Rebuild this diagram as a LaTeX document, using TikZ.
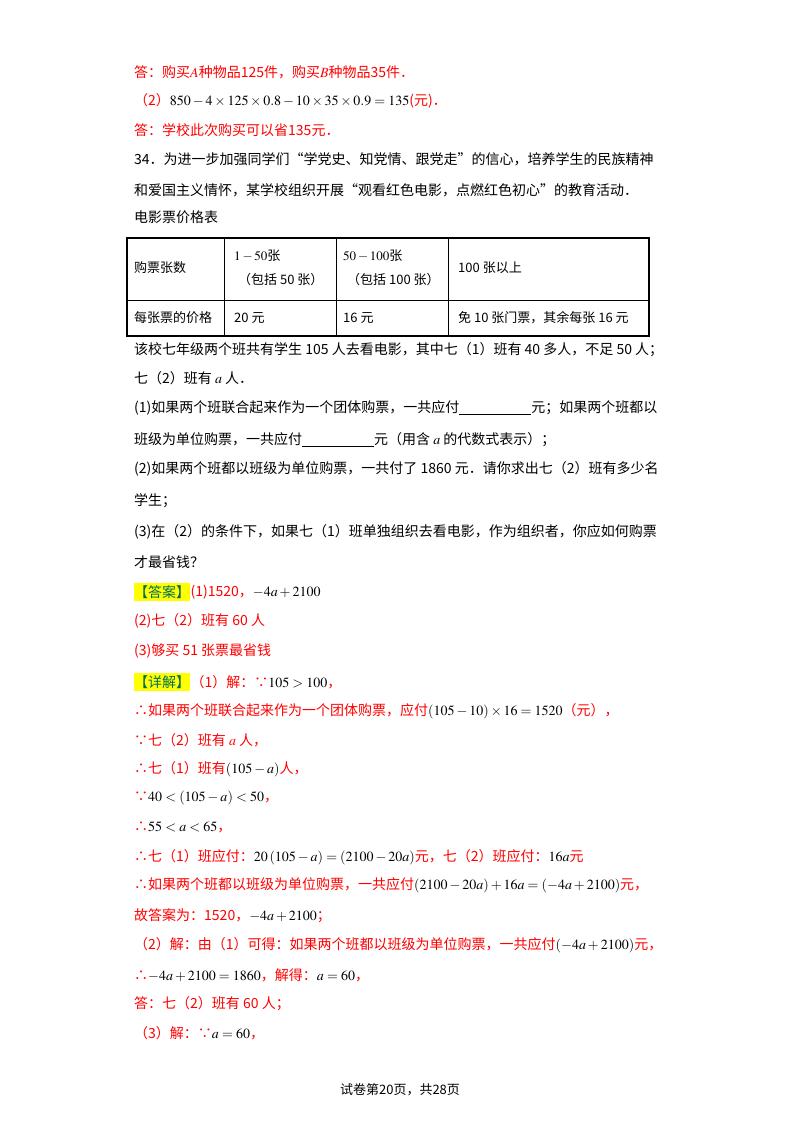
\documentclass[tikz,border=0pt]{standalone}
\usepackage{mathptmx}
\usepackage{fontspec}
\setmainfont{Noto Sans CJK SC}
\newcommand{\blk}{\raisebox{-2pt}{\rule{72pt}{0.5pt}}}
\definecolor{hl}{RGB}{255,255,0}
\definecolor{hd}{RGB}{0,110,90}
\begin{document}
\begin{tikzpicture}[x=1pt,y=-1pt,
  t/.style={anchor=west,inner sep=0pt,font=\fontsize{14}{16}\selectfont},
  r/.style={t,text=red},
  tag/.style={t,fill=hl,text=hd,inner ysep=2pt},
  cell/.style={anchor=west,inner sep=0pt,font=\fontsize{13}{20}\selectfont,align=left}]
\useasboundingbox (0,0) rectangle (800,1132);
\fill[white] (0,0) rectangle (800,1132);
\node[r] (l1) at (134,72) {答：购买$A$种物品125件，购买$B$种物品35件．};
\node[t] (l2) at (134,101) {{\color{red}（2）}$850-4\times125\times0.8-10\times35\times0.9=135${\color{red}(元)．}};
\node[r] (l3) at (134,130) {答：学校此次购买可以省135元．};
\node[t] (l4) at (134,159) {34．为进一步加强同学们“学党史、知党情、跟党走”的信心，培养学生的民族精神};
\node[t] (l5) at (134,190) {和爱国主义情怀，某学校组织开展“观看红色电影，点燃红色初心”的教育活动．};
\node[t] (l6) at (134,217) {电影票价格表};
% table
\draw[line width=1.3pt] (127,238) rectangle (649,336);
\draw[line width=0.8pt] (127,300) -- (649,300) (224,238) -- (224,336) (336,238) -- (336,336) (448,238) -- (448,336);
\node[cell] (c1) at (134,268) {购票张数};
\node[cell] (c2) at (234,268) {$1-50$张\\[4pt]\hspace*{4pt}（包括 50 张）};
\node[cell] (c3) at (343,268) {$50-100$张\\[4pt]\hspace*{4pt}（包括 100 张）};
\node[cell] (c4) at (458,268) {100 张以上};
\node[cell] (d1) at (134,318) {每张票的价格};
\node[cell] (d2) at (234,318) {20 元};
\node[cell] (d3) at (343,318) {16 元};
\node[cell] (d4) at (458,318) {免 10 张门票，其余每张 16 元};
\node[t] (l7) at (134,350) {该校七年级两个班共有学生 105 人去看电影，其中七（1）班有 40 多人，不足 50 人；};
\node[t] (l8) at (134,378) {七（2）班有 $a$ 人．};
\node[t] (l9) at (134,408) {(1)如果两个班联合起来作为一个团体购票，一共应付\blk 元；如果两个班都以};
\node[t] (l10) at (134,440) {班级为单位购票，一共应付\blk 元（用含 $a$ 的代数式表示）；};
\node[t] (l11) at (134,469) {(2)如果两个班都以班级为单位购票，一共付了 1860 元．请你求出七（2）班有多少名};
\node[t] (l12) at (134,501) {学生；};
\node[t] (l13) at (134,532) {(3)在（2）的条件下，如果七（1）班单独组织去看电影，作为组织者，你应如何购票};
\node[t] (l14) at (134,562) {才最省钱？};
\node[tag] (a0) at (134,592) {【答案】};
\node[r] (a1) at (a0.east) {(1)1520，{\color{black}$-4a+2100$}};
\node[r] (a2) at (134,621) {(2)七（2）班有 60 人};
\node[r] (a3) at (134,651) {(3)够买 51 张票最省钱};
\node[tag] (b0) at (134,682) {【详解】};
\node[r] (b1) at (b0.east) {（1）解：∵{\color{black}$105>100$}，};
\node[r] (b2) at (134,711) {∴如果两个班联合起来作为一个团体购票，应付{\color{black}$\left(105-10\right)\times16=1520$}（元），};
\node[r] (b3) at (134,740) {∵七（2）班有 $a$ 人，};
\node[r] (b4) at (134,769) {∴七（1）班有{\color{black}$\left(105-a\right)$}人，};
\node[r] (b5) at (134,798) {∵{\color{black}$40<\left(105-a\right)<50$}，};
\node[r] (b6) at (134,827) {∴{\color{black}$55<a<65$}，};
\node[r] (b7) at (134,857) {∴七（1）班应付：{\color{black}$20\left(105-a\right)=\left(2100-20a\right)$}元，七（2）班应付：{\color{black}$16a$}元};
\node[r] (b8) at (134,885) {∴如果两个班都以班级为单位购票，一共应付{\color{black}$\left(2100-20a\right)+16a=\left(-4a+2100\right)$}元，};
\node[r] (b9) at (134,916) {故答案为：1520，{\color{black}$-4a+2100$}；};
\node[r] (b10) at (134,945) {（2）解：由（1）可得：如果两个班都以班级为单位购票，一共应付{\color{black}$\left(-4a+2100\right)$}元，};
\node[r] (b11) at (134,975) {∴{\color{black}$-4a+2100=1860$}，解得：{\color{black}$a=60$}，};
\node[r] (b12) at (134,1004) {答：七（2）班有 60 人；};
\node[r] (b13) at (134,1033) {（3）解：∵{\color{black}$a=60$}，};
\node[anchor=center,inner sep=0pt,font=\fontsize{13}{15}\selectfont] (ft) at (400,1090) {试卷第20页，共28页};
\end{tikzpicture}
\end{document}
